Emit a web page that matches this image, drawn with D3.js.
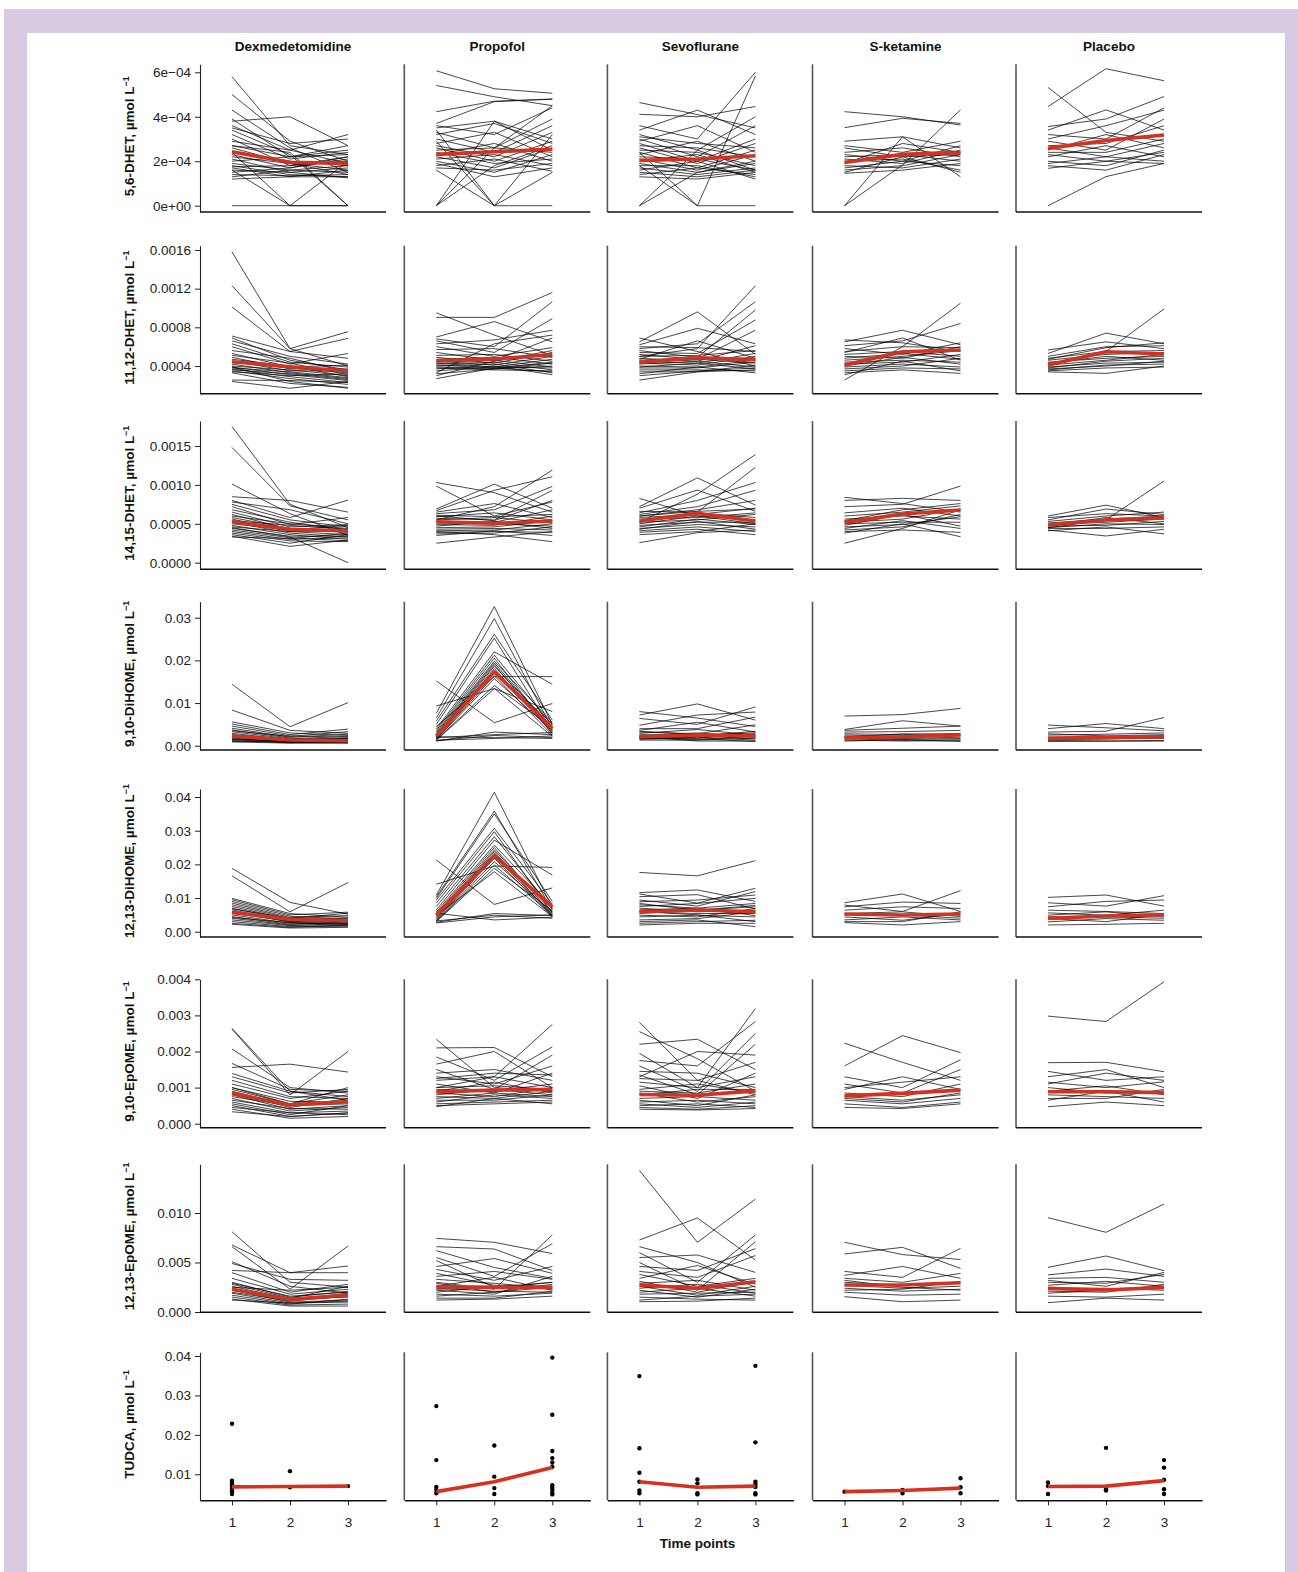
<!DOCTYPE html>
<html><head><meta charset="utf-8">
<script src="https://cdn.jsdelivr.net/npm/d3@7"></script>
<style>body{margin:0;background:#fff}svg{display:block}</style>
</head><body><svg id="c" width="1298" height="1572"></svg>
<script>
// ---------- categories / labels ----------
const groups = ["Dexmedetomidine","Propofol","Sevoflurane","S-ketamine","Placebo"];
const metabolites = ["5,6-DHET","11,12-DHET","14,15-DHET","9,10-DiHOME","12,13-DiHOME","9,10-EpOME","12,13-EpOME","TUDCA"];
const timePoints = [1,2,3];
const xTickLabels = ["1","2","3"];
const xAxisTitle = "Time points";
const unitLabel = ", µmol L";

// ---------- y ticks ----------
const dhet56Ticks = [0,2e-4,4e-4,6e-4];
const dhet56TickLabels = ["0e+00","2e−04","4e−04","6e−04"];
const dhet1112Ticks = [4e-4,8e-4,1.2e-3,1.6e-3];
const dhet1112TickLabels = ["0.0004","0.0008","0.0012","0.0016"];
const dhet1415Ticks = [0,5e-4,1e-3,1.5e-3];
const dhet1415TickLabels = ["0.0000","0.0005","0.0010","0.0015"];
const dihome910Ticks = [0,0.01,0.02,0.03];
const dihome910TickLabels = ["0.00","0.01","0.02","0.03"];
const dihome1213Ticks = [0,0.01,0.02,0.03,0.04];
const dihome1213TickLabels = ["0.00","0.01","0.02","0.03","0.04"];
const epome910Ticks = [0,0.001,0.002,0.003,0.004];
const epome910TickLabels = ["0.000","0.001","0.002","0.003","0.004"];
const epome1213Ticks = [0,0.005,0.01];
const epome1213TickLabels = ["0.000","0.005","0.010"];
const tudcaTicks = [0.01,0.02,0.03,0.04];
const tudcaTickLabels = ["0.01","0.02","0.03","0.04"];

// ---------- 5,6-DHET: subjects [t1,t2,t3] per group ----------
const dhet56Subjects = [
 [[5.8e-4,2.7e-4,2.3e-4],[5.0e-4,2.9e-4,2.0e-4],[4.3e-4,2.6e-4,1.5e-4],[3.9e-4,2.2e-4,2.7e-4],[3.8e-4,4.0e-4,2.7e-4],[3.6e-4,2.5e-4,3.2e-4],[3.5e-4,2.8e-4,3.0e-4],[3.4e-4,2.3e-4,0],[3.2e-4,2.1e-4,2.4e-4],[3.0e-4,1.8e-4,2.2e-4],[2.9e-4,2.5e-4,1.9e-4],[0,0,0],[2.4e-4,0,2.0e-4],[1.6e-4,0,0],[2.7e-4,2.4e-4,0],[2.7e-4,2.2e-4,2.5e-4],[2.6e-4,1.9e-4,1.6e-4],[2.45e-4,2.0e-4,1.8e-4],[2.3e-4,1.7e-4,2.1e-4],[2.2e-4,1.9e-4,1.4e-4],[2.1e-4,1.5e-4,1.7e-4],[2.0e-4,2.2e-4,2.3e-4],[1.9e-4,1.6e-4,1.5e-4],[1.8e-4,1.4e-4,1.3e-4],[1.75e-4,1.8e-4,2.0e-4],[1.7e-4,1.3e-4,1.6e-4],[1.6e-4,1.5e-4,1.25e-4],[1.5e-4,1.7e-4,2.2e-4],[1.4e-4,1.35e-4,1.4e-4],[1.3e-4,1.6e-4,1.8e-4],[1.2e-4,1.3e-4,1.3e-4]],
 [[6.07e-4,5.26e-4,5.06e-4],[5.41e-4,4.9e-4,4.5e-4],[4.23e-4,4.7e-4,4.8e-4],[3.7e-4,4.68e-4,4.79e-4],[3.6e-4,3.2e-4,4.4e-4],[3.5e-4,3.8e-4,2.5e-4],[3.3e-4,2.6e-4,3.9e-4],[3.2e-4,3.7e-4,2.8e-4],[3.0e-4,2.4e-4,3.6e-4],[2.8e-4,3.3e-4,2.2e-4],[2.7e-4,2.2e-4,3.3e-4],[2.6e-4,2.0e-4,2.9e-4],[2.5e-4,2.6e-4,2.4e-4],[2.4e-4,1.9e-4,2.1e-4],[2.3e-4,2.8e-4,2.0e-4],[2.2e-4,1.7e-4,2.6e-4],[2.1e-4,2.3e-4,1.8e-4],[2.0e-4,1.5e-4,2.3e-4],[1.9e-4,1.3e-4,1.7e-4],[1.8e-4,2.1e-4,1.55e-4],[1.7e-4,1.6e-4,1.9e-4],[3.4e-4,0,1.5e-4],[2.9e-4,0,0],[0,3.8e-4,3.0e-4],[0,2.6e-4,4.5e-4],[0,1.8e-4,2.7e-4],[1.6e-4,0,3.2e-4]],
 [[4.64e-4,4.1e-4,3.5e-4],[4.11e-4,4.0e-4,4.46e-4],[3.6e-4,3.0e-4,6.0e-4],[1.8e-4,0,5.84e-4],[3.4e-4,4.3e-4,3.2e-4],[3.2e-4,2.5e-4,4.0e-4],[3.1e-4,2.8e-4,2.6e-4],[3.0e-4,2.2e-4,3.6e-4],[2.9e-4,3.6e-4,2.4e-4],[2.8e-4,2.0e-4,3.0e-4],[2.7e-4,2.6e-4,2.2e-4],[2.6e-4,1.9e-4,2.8e-4],[2.5e-4,2.4e-4,1.8e-4],[2.4e-4,1.7e-4,2.5e-4],[2.3e-4,2.9e-4,2.0e-4],[2.2e-4,2.1e-4,1.6e-4],[2.1e-4,1.6e-4,2.3e-4],[2.0e-4,2.3e-4,1.5e-4],[1.9e-4,1.5e-4,2.0e-4],[1.8e-4,1.8e-4,1.3e-4],[1.7e-4,1.4e-4,1.7e-4],[1.6e-4,2.0e-4,1.2e-4],[1.5e-4,1.3e-4,1.6e-4],[1.4e-4,1.7e-4,1.4e-4],[0,2.5e-4,1.6e-4],[0,1.5e-4,1.9e-4],[2.4e-4,0,0],[1.3e-4,1.2e-4,1.5e-4]],
 [[4.23e-4,4.0e-4,3.63e-4],[3.51e-4,3.93e-4,3.7e-4],[0,3.1e-4,1.3e-4],[0,1.83e-4,4.31e-4],[2.9e-4,3.1e-4,2.6e-4],[2.7e-4,2.4e-4,2.9e-4],[2.6e-4,2.2e-4,2.3e-4],[2.4e-4,2.6e-4,2.2e-4],[2.3e-4,2.0e-4,2.7e-4],[2.2e-4,2.3e-4,2.0e-4],[2.1e-4,1.9e-4,2.5e-4],[2.0e-4,2.1e-4,1.6e-4],[1.9e-4,2.8e-4,2.4e-4],[1.8e-4,1.7e-4,2.1e-4],[1.7e-4,2.0e-4,1.8e-4],[1.6e-4,1.8e-4,2.3e-4],[1.5e-4,2.2e-4,1.5e-4],[1.46e-4,1.6e-4,1.9e-4]],
 [[5.32e-4,3.3e-4,2.9e-4],[4.46e-4,6.16e-4,5.62e-4],[0,1.31e-4,1.9e-4],[3.56e-4,3.9e-4,4.91e-4],[3.4e-4,4.31e-4,3.4e-4],[3.2e-4,3.0e-4,4.4e-4],[3.0e-4,3.6e-4,4.3e-4],[2.9e-4,2.5e-4,3.9e-4],[2.7e-4,2.8e-4,3.6e-4],[2.6e-4,2.2e-4,2.8e-4],[2.5e-4,3.2e-4,2.6e-4],[2.4e-4,2.4e-4,3.0e-4],[2.3e-4,2.0e-4,2.4e-4],[2.2e-4,2.7e-4,2.2e-4],[2.0e-4,1.8e-4,2.5e-4],[1.9e-4,2.2e-4,2.0e-4],[1.8e-4,1.6e-4,2.3e-4],[1.68e-4,2.0e-4,1.9e-4]]
];
const dhet56Mean = [[2.43e-4,1.95e-4,1.91e-4],[2.31e-4,2.43e-4,2.54e-4],[2.04e-4,2.10e-4,2.25e-4],[1.94e-4,2.31e-4,2.40e-4],[2.58e-4,2.93e-4,3.18e-4]];

// ---------- 11,12-DHET ----------
const dhet1112Subjects = [
 [[15.8e-4,5.8e-4,4.0e-4],[12.3e-4,5.8e-4,7.55e-4],[10.1e-4,5.5e-4,6.86e-4],[7.1e-4,5.5e-4,4.8e-4],[6.9e-4,4.6e-4,3.6e-4],[6.6e-4,5.0e-4,4.2e-4],[6.3e-4,4.4e-4,3.9e-4],[6.0e-4,4.2e-4,5.3e-4],[5.6e-4,4.8e-4,3.4e-4],[5.3e-4,3.9e-4,4.1e-4],[5.1e-4,4.3e-4,3.1e-4],[4.9e-4,3.7e-4,3.7e-4],[4.7e-4,4.0e-4,2.9e-4],[4.5e-4,3.5e-4,3.5e-4],[4.4e-4,3.8e-4,3.3e-4],[4.2e-4,3.3e-4,2.7e-4],[4.0e-4,3.6e-4,3.0e-4],[3.9e-4,3.1e-4,2.5e-4],[3.8e-4,3.4e-4,2.8e-4],[3.7e-4,2.9e-4,2.3e-4],[3.6e-4,3.2e-4,2.6e-4],[3.5e-4,2.7e-4,2.1e-4],[3.4e-4,3.0e-4,3.2e-4],[2.55e-4,2.5e-4,2.3e-4],[2.4e-4,1.7e-4,2.4e-4],[3.3e-4,2.2e-4,1.8e-4],[3.9e-4,2.4e-4,1.7e-4]],
 [[9.5e-4,7.2e-4,5.1e-4],[9.03e-4,9.03e-4,11.6e-4],[7.0e-4,8.6e-4,6.5e-4],[6.8e-4,6.0e-4,10.65e-4],[6.6e-4,5.4e-4,8.9e-4],[6.3e-4,6.7e-4,7.7e-4],[6.0e-4,5.0e-4,5.9e-4],[5.7e-4,5.8e-4,4.9e-4],[5.4e-4,4.6e-4,6.9e-4],[5.1e-4,5.2e-4,4.5e-4],[4.9e-4,4.3e-4,5.4e-4],[4.7e-4,4.9e-4,4.2e-4],[4.5e-4,4.1e-4,5.0e-4],[4.4e-4,4.6e-4,3.9e-4],[4.3e-4,3.9e-4,4.7e-4],[4.2e-4,4.4e-4,3.6e-4],[4.1e-4,3.8e-4,4.4e-4],[4.0e-4,4.2e-4,3.3e-4],[3.9e-4,3.7e-4,4.0e-4],[3.8e-4,3.6e-4,3.5e-4],[3.7e-4,4.0e-4,3.1e-4],[3.5e-4,3.9e-4,3.8e-4],[3.2e-4,3.7e-4,4.3e-4],[2.7e-4,3.8e-4,3.4e-4],[3.0e-4,4.5e-4,5.6e-4],[3.3e-4,6.3e-4,7.2e-4]],
 [[6.9e-4,5.5e-4,4.0e-4],[6.5e-4,9.6e-4,5.2e-4],[6.2e-4,7.9e-4,6.3e-4],[5.0e-4,5.8e-4,12.3e-4],[5.8e-4,6.3e-4,10.65e-4],[5.6e-4,4.9e-4,9.8e-4],[5.4e-4,5.3e-4,8.76e-4],[5.2e-4,4.7e-4,7.7e-4],[5.0e-4,5.1e-4,5.6e-4],[4.8e-4,4.5e-4,6.1e-4],[4.6e-4,4.9e-4,4.7e-4],[4.5e-4,4.3e-4,5.3e-4],[4.4e-4,4.7e-4,4.3e-4],[4.3e-4,4.1e-4,5.0e-4],[4.2e-4,4.5e-4,3.9e-4],[4.0e-4,3.9e-4,4.6e-4],[3.9e-4,4.3e-4,3.7e-4],[3.8e-4,3.8e-4,4.4e-4],[3.6e-4,3.6e-4,3.5e-4],[3.4e-4,3.4e-4,4.1e-4],[3.2e-4,3.9e-4,3.3e-4],[3.0e-4,3.5e-4,3.8e-4],[2.55e-4,3.4e-4,3.6e-4],[4.7e-4,6.6e-4,4.8e-4],[6.0e-4,5.9e-4,5.5e-4]],
 [[6.7e-4,6.4e-4,5.5e-4],[6.5e-4,7.7e-4,6.2e-4],[2.55e-4,6.0e-4,10.5e-4],[6.1e-4,6.6e-4,8.4e-4],[5.8e-4,5.2e-4,6.4e-4],[5.5e-4,6.0e-4,5.9e-4],[5.2e-4,5.5e-4,5.0e-4],[5.0e-4,4.8e-4,6.0e-4],[4.8e-4,5.3e-4,4.7e-4],[4.6e-4,5.0e-4,5.6e-4],[4.4e-4,4.6e-4,4.4e-4],[4.2e-4,4.4e-4,5.2e-4],[4.0e-4,4.9e-4,4.2e-4],[3.9e-4,4.2e-4,3.9e-4],[3.7e-4,4.0e-4,4.8e-4],[3.5e-4,3.8e-4,3.7e-4],[3.3e-4,3.6e-4,3.24e-4],[3.1e-4,4.5e-4,3.5e-4],[5.4e-4,6.9e-4,4.6e-4]],
 [[4.0e-4,5.5e-4,9.9e-4],[5.66e-4,6.5e-4,5.8e-4],[5.3e-4,7.4e-4,6.3e-4],[5.0e-4,6.0e-4,6.1e-4],[4.8e-4,5.5e-4,5.6e-4],[4.6e-4,5.2e-4,5.4e-4],[4.4e-4,4.8e-4,5.0e-4],[4.3e-4,5.0e-4,4.6e-4],[4.1e-4,4.6e-4,5.2e-4],[3.9e-4,4.3e-4,4.4e-4],[3.8e-4,4.5e-4,4.8e-4],[3.6e-4,4.1e-4,4.2e-4],[3.5e-4,3.8e-4,3.9e-4],[3.4e-4,3.24e-4,4.0e-4],[4.7e-4,5.9e-4,6.4e-4],[3.7e-4,4.0e-4,4.5e-4]]
];
const dhet1112Mean = [[4.45e-4,3.93e-4,3.48e-4],[4.55e-4,4.72e-4,5.2e-4],[4.38e-4,4.86e-4,4.66e-4],[4.1e-4,5.48e-4,5.66e-4],[4.1e-4,5.48e-4,5.24e-4]];

// ---------- 14,15-DHET ----------
const dhet1415Subjects = [
 [[17.5e-4,7.5e-4,4.5e-4],[14.8e-4,7.3e-4,5.5e-4],[10.1e-4,6.3e-4,3.5e-4],[8.48e-4,8.0e-4,6.5e-4],[8.0e-4,5.8e-4,8.05e-4],[7.8e-4,6.8e-4,5.0e-4],[7.5e-4,5.5e-4,4.6e-4],[7.2e-4,4.9e-4,5.8e-4],[6.8e-4,5.2e-4,4.2e-4],[6.5e-4,4.6e-4,4.9e-4],[6.2e-4,4.3e-4,3.9e-4],[6.0e-4,5.0e-4,4.4e-4],[5.8e-4,4.4e-4,4.0e-4],[5.6e-4,4.0e-4,3.6e-4],[5.4e-4,4.8e-4,4.3e-4],[5.2e-4,3.8e-4,3.3e-4],[5.0e-4,4.2e-4,4.8e-4],[4.8e-4,3.6e-4,3.0e-4],[4.6e-4,4.0e-4,4.1e-4],[4.4e-4,3.4e-4,3.4e-4],[4.2e-4,3.2e-4,2.8e-4],[4.0e-4,3.0e-4,3.2e-4],[3.8e-4,2.8e-4,2.7e-4],[3.6e-4,2.5e-4,3.6e-4],[3.4e-4,2.1e-4,2.9e-4],[4.5e-4,3.3e-4,0],[3.3e-4,3.1e-4,3.8e-4]],
 [[10.3e-4,9.0e-4,6.5e-4],[9.85e-4,6.0e-4,7.8e-4],[5.5e-4,7.2e-4,11.9e-4],[6.9e-4,10.1e-4,7.0e-4],[6.7e-4,9.3e-4,11.05e-4],[6.5e-4,7.6e-4,5.8e-4],[6.3e-4,6.8e-4,9.8e-4],[6.1e-4,5.9e-4,6.2e-4],[5.9e-4,6.4e-4,5.5e-4],[5.7e-4,5.5e-4,9.3e-4],[5.5e-4,5.8e-4,5.1e-4],[5.3e-4,5.2e-4,6.8e-4],[5.1e-4,5.0e-4,4.7e-4],[4.9e-4,4.8e-4,6.0e-4],[4.7e-4,5.3e-4,4.4e-4],[4.5e-4,4.6e-4,5.4e-4],[4.3e-4,4.4e-4,4.2e-4],[4.1e-4,4.2e-4,5.0e-4],[3.9e-4,4.0e-4,3.9e-4],[3.7e-4,3.8e-4,4.6e-4],[3.5e-4,4.1e-4,3.5e-4],[2.5e-4,3.3e-4,4.0e-4],[4.0e-4,3.6e-4,2.7e-4],[6.0e-4,5.4e-4,8.0e-4]],
 [[8.27e-4,6.0e-4,5.0e-4],[7.2e-4,10.9e-4,7.4e-4],[7.0e-4,9.34e-4,6.6e-4],[5.2e-4,8.8e-4,13.9e-4],[6.6e-4,6.5e-4,12.25e-4],[6.4e-4,8.0e-4,10.3e-4],[6.2e-4,7.2e-4,9.3e-4],[6.0e-4,6.8e-4,8.0e-4],[5.8e-4,6.2e-4,7.0e-4],[5.6e-4,5.8e-4,6.4e-4],[5.4e-4,6.4e-4,5.8e-4],[5.2e-4,5.5e-4,6.2e-4],[5.0e-4,6.0e-4,5.5e-4],[4.8e-4,5.2e-4,5.2e-4],[4.6e-4,5.6e-4,4.9e-4],[4.4e-4,4.9e-4,4.6e-4],[4.3e-4,5.3e-4,4.3e-4],[4.1e-4,4.6e-4,4.0e-4],[3.9e-4,4.3e-4,3.6e-4],[3.6e-4,4.0e-4,5.0e-4],[2.57e-4,3.86e-4,4.2e-4],[6.0e-4,6.6e-4,6.9e-4]],
 [[8.4e-4,7.6e-4,6.5e-4],[8.0e-4,8.27e-4,8.0e-4],[7.2e-4,7.5e-4,9.85e-4],[6.4e-4,7.0e-4,6.0e-4],[6.0e-4,6.5e-4,7.3e-4],[5.6e-4,6.0e-4,5.6e-4],[5.2e-4,5.6e-4,6.9e-4],[5.0e-4,5.2e-4,5.2e-4],[4.8e-4,6.2e-4,4.7e-4],[4.6e-4,4.9e-4,5.9e-4],[4.4e-4,5.4e-4,4.4e-4],[4.2e-4,4.6e-4,6.2e-4],[4.0e-4,4.2e-4,3.9e-4],[2.5e-4,4.4e-4,6.8e-4],[3.8e-4,5.0e-4,3.34e-4],[5.4e-4,6.8e-4,7.6e-4]],
 [[6.0e-4,7.4e-4,5.8e-4],[4.5e-4,5.5e-4,10.5e-4],[5.5e-4,6.9e-4,6.2e-4],[5.3e-4,6.0e-4,6.5e-4],[5.1e-4,5.6e-4,6.0e-4],[4.9e-4,5.2e-4,5.6e-4],[4.7e-4,4.8e-4,5.3e-4],[4.5e-4,5.0e-4,4.9e-4],[4.4e-4,4.4e-4,4.6e-4],[4.2e-4,3.43e-4,4.3e-4],[4.1e-4,4.6e-4,3.7e-4],[5.8e-4,6.3e-4,6.0e-4],[4.8e-4,5.8e-4,5.0e-4]]
];
const dhet1415Mean = [[5.27e-4,4.28e-4,4.11e-4],[5.27e-4,5.06e-4,5.36e-4],[5.36e-4,6.34e-4,5.36e-4],[5.18e-4,6.26e-4,6.77e-4],[4.84e-4,5.48e-4,5.78e-4]];

// ---------- 9,10-DiHOME ----------
const dihome910Subjects = [
 [[14.4e-3,4.45e-3,10.1e-3],[8.36e-3,3.6e-3,2.9e-3],[5.6e-3,3.0e-3,2.4e-3],[5.1e-3,2.6e-3,3.9e-3],[4.6e-3,2.3e-3,2.0e-3],[4.1e-3,2.0e-3,2.7e-3],[3.7e-3,1.8e-3,1.6e-3],[3.3e-3,1.6e-3,2.2e-3],[2.9e-3,1.4e-3,1.3e-3],[2.6e-3,1.2e-3,1.8e-3],[2.3e-3,1.0e-3,1.0e-3],[2.0e-3,1.3e-3,1.5e-3],[1.8e-3,0.9e-3,0.9e-3],[1.6e-3,1.1e-3,1.2e-3],[1.4e-3,0.8e-3,0.7e-3],[1.2e-3,0.7e-3,1.1e-3],[1.0e-3,0.9e-3,0.8e-3],[0.9e-3,0.6e-3,0.6e-3],[2.5e-3,1.5e-3,1.4e-3],[3.5e-3,2.2e-3,3.3e-3],[1.5e-3,1.0e-3,1.7e-3]],
 [[15.2e-3,5.4e-3,9.9e-3],[9.3e-3,13.4e-3,8.0e-3],[7.6e-3,32.6e-3,5.0e-3],[6.5e-3,29.8e-3,4.0e-3],[5.8e-3,26.1e-3,6.0e-3],[5.0e-3,25.2e-3,3.5e-3],[4.5e-3,16.2e-3,16.2e-3],[4.0e-3,22.0e-3,14.4e-3],[3.6e-3,21.2e-3,4.8e-3],[3.2e-3,20.5e-3,3.2e-3],[2.9e-3,19.8e-3,5.5e-3],[2.6e-3,19.4e-3,3.8e-3],[2.4e-3,19.0e-3,2.8e-3],[2.2e-3,18.6e-3,4.4e-3],[2.0e-3,18.1e-3,3.0e-3],[1.8e-3,17.3e-3,5.2e-3],[1.6e-3,16.4e-3,2.5e-3],[1.5e-3,15.7e-3,3.6e-3],[1.4e-3,14.1e-3,4.2e-3],[1.3e-3,13.4e-3,2.2e-3],[1.2e-3,2.4e-3,1.9e-3],[1.3e-3,1.7e-3,2.3e-3],[1.1e-3,3.2e-3,2.6e-3],[2.1e-3,1.9e-3,1.7e-3],[1.9e-3,2.6e-3,3.1e-3]],
 [[8.0e-3,6.5e-3,4.5e-3],[7.2e-3,9.8e-3,6.0e-3],[6.4e-3,5.0e-3,9.1e-3],[4.8e-3,7.2e-3,7.9e-3],[4.0e-3,4.0e-3,6.7e-3],[3.6e-3,5.5e-3,3.2e-3],[3.2e-3,2.8e-3,4.9e-3],[2.9e-3,3.8e-3,2.5e-3],[2.6e-3,2.2e-3,3.4e-3],[2.4e-3,3.0e-3,2.0e-3],[2.1e-3,1.8e-3,2.8e-3],[1.9e-3,2.4e-3,1.6e-3],[1.7e-3,1.5e-3,2.2e-3],[1.5e-3,2.0e-3,1.3e-3],[1.33e-3,1.3e-3,1.8e-3],[2.2e-3,1.1e-3,1.1e-3],[3.4e-3,2.6e-3,3.0e-3],[1.8e-3,1.6e-3,1.0e-3]],
 [[6.95e-3,7.3e-3,8.75e-3],[3.8e-3,5.86e-3,4.6e-3],[3.2e-3,3.3e-3,3.6e-3],[2.8e-3,2.6e-3,2.9e-3],[2.5e-3,2.2e-3,2.4e-3],[2.2e-3,1.7e-3,2.0e-3],[1.9e-3,1.5e-3,1.7e-3],[1.6e-3,1.3e-3,1.4e-3],[1.3e-3,1.1e-3,1.2e-3],[1.1e-3,1.4e-3,1.0e-3],[3.6e-3,4.1e-3,4.6e-3],[2.0e-3,2.8e-3,2.6e-3]],
 [[4.84e-3,4.2e-3,3.5e-3],[4.0e-3,5.2e-3,4.0e-3],[3.2e-3,3.4e-3,6.6e-3],[2.5e-3,2.7e-3,3.0e-3],[2.0e-3,2.1e-3,2.4e-3],[1.6e-3,1.7e-3,1.7e-3],[1.2e-3,1.3e-3,1.2e-3],[1.0e-3,1.0e-3,1.1e-3],[2.8e-3,2.3e-3,2.6e-3],[1.4e-3,1.6e-3,2.0e-3]]
];
const dihome910Mean = [[2.27e-3,1.33e-3,1.17e-3],[2.27e-3,17.3e-3,4.06e-3],[2.1e-3,2.5e-3,2.27e-3],[1.88e-3,2.1e-3,2.5e-3],[1.72e-3,1.95e-3,2.1e-3]];

// ---------- 12,13-DiHOME ----------
const dihome1213Subjects = [
 [[18.8e-3,8.7e-3,5.2e-3],[16.6e-3,5.9e-3,14.6e-3],[9.9e-3,5.4e-3,4.3e-3],[9.5e-3,5.0e-3,5.8e-3],[9.0e-3,4.6e-3,3.8e-3],[8.5e-3,4.2e-3,4.8e-3],[8.0e-3,3.9e-3,3.4e-3],[7.5e-3,3.6e-3,4.1e-3],[7.0e-3,3.3e-3,3.0e-3],[6.5e-3,3.0e-3,3.7e-3],[6.0e-3,2.8e-3,2.6e-3],[5.5e-3,3.1e-3,3.2e-3],[5.0e-3,2.5e-3,2.3e-3],[4.5e-3,2.2e-3,2.9e-3],[4.0e-3,2.0e-3,1.9e-3],[3.5e-3,1.8e-3,2.5e-3],[3.0e-3,1.5e-3,1.6e-3],[2.5e-3,1.3e-3,2.0e-3],[2.2e-3,1.1e-3,1.3e-3],[4.2e-3,2.7e-3,2.1e-3],[6.8e-3,4.0e-3,5.5e-3]],
 [[21.3e-3,8.1e-3,13.0e-3],[10.9e-3,41.4e-3,7.2e-3],[10.4e-3,35.8e-3,6.5e-3],[9.9e-3,35.0e-3,9.0e-3],[9.4e-3,30.7e-3,8.2e-3],[8.5e-3,29.7e-3,5.5e-3],[7.5e-3,28.2e-3,6.8e-3],[6.5e-3,27.2e-3,16.8e-3],[5.9e-3,25.7e-3,7.6e-3],[5.4e-3,25.0e-3,5.0e-3],[5.0e-3,24.3e-3,6.0e-3],[4.6e-3,23.8e-3,4.6e-3],[4.2e-3,23.3e-3,7.0e-3],[3.9e-3,22.3e-3,5.3e-3],[3.6e-3,21.8e-3,4.4e-3],[3.3e-3,20.8e-3,5.8e-3],[3.1e-3,19.8e-3,4.9e-3],[3.0e-3,18.8e-3,6.3e-3],[4.8e-3,17.8e-3,4.5e-3],[2.8e-3,5.4e-3,4.8e-3],[3.2e-3,4.9e-3,4.0e-3],[2.6e-3,4.4e-3,5.0e-3],[5.5e-3,3.5e-3,4.3e-3],[14.1e-3,19.5e-3,19.1e-3]],
 [[17.6e-3,16.6e-3,21.1e-3],[11.6e-3,12.4e-3,9.0e-3],[11.2e-3,8.5e-3,12.9e-3],[10.4e-3,11.0e-3,6.8e-3],[9.4e-3,7.6e-3,11.9e-3],[8.9e-3,9.4e-3,10.9e-3],[8.4e-3,6.4e-3,7.8e-3],[7.5e-3,8.4e-3,9.9e-3],[7.0e-3,5.9e-3,6.4e-3],[6.5e-3,7.0e-3,8.4e-3],[5.9e-3,5.4e-3,5.4e-3],[5.4e-3,6.4e-3,7.4e-3],[4.4e-3,4.9e-3,4.4e-3],[3.5e-3,3.9e-3,5.9e-3],[2.5e-3,3.0e-3,3.4e-3],[2.0e-3,2.5e-3,2.5e-3],[4.9e-3,4.4e-3,6.9e-3],[6.0e-3,5.0e-3,3.0e-3],[3.0e-3,3.5e-3,1.5e-3],[8.0e-3,7.0e-3,4.8e-3]],
 [[8.6e-3,11.2e-3,6.0e-3],[7.9e-3,6.0e-3,12.2e-3],[7.4e-3,8.8e-3,8.4e-3],[6.4e-3,7.4e-3,6.9e-3],[5.4e-3,5.9e-3,4.5e-3],[4.4e-3,3.4e-3,5.4e-3],[3.5e-3,4.4e-3,3.5e-3],[2.7e-3,2.0e-3,3.0e-3],[5.0e-3,5.0e-3,4.0e-3],[3.0e-3,3.0e-3,5.9e-3]],
 [[10.2e-3,10.9e-3,7.6e-3],[8.6e-3,7.6e-3,10.7e-3],[7.4e-3,9.0e-3,9.4e-3],[6.4e-3,6.0e-3,5.4e-3],[5.6e-3,4.9e-3,6.4e-3],[4.9e-3,5.9e-3,4.4e-3],[3.9e-3,3.0e-3,5.2e-3],[2.9e-3,3.9e-3,3.4e-3],[2.0e-3,2.2e-3,2.5e-3],[4.4e-3,4.4e-3,4.0e-3]]
];
const dihome1213Mean = [[5.74e-3,3.66e-3,3.27e-3],[4.95e-3,22.5e-3,7.4e-3],[5.94e-3,6.44e-3,5.94e-3],[5.25e-3,4.95e-3,5.25e-3],[3.96e-3,4.65e-3,5.05e-3]];

// ---------- 9,10-EpOME ----------
const epome910Subjects = [
 [[2.64e-3,0.9e-3,0.75e-3],[2.62e-3,0.8e-3,2.0e-3],[2.07e-3,1.0e-3,0.85e-3],[1.67e-3,0.95e-3,0.9e-3],[1.56e-3,1.65e-3,1.43e-3],[1.39e-3,0.9e-3,0.65e-3],[1.3e-3,0.85e-3,0.95e-3],[1.2e-3,0.75e-3,0.7e-3],[1.1e-3,0.7e-3,0.9e-3],[1.0e-3,0.62e-3,0.6e-3],[0.95e-3,0.55e-3,0.8e-3],[0.9e-3,0.5e-3,0.55e-3],[0.85e-3,0.45e-3,0.7e-3],[0.8e-3,0.4e-3,0.5e-3],[0.75e-3,0.5e-3,0.65e-3],[0.7e-3,0.35e-3,0.45e-3],[0.65e-3,0.42e-3,0.4e-3],[0.6e-3,0.3e-3,0.35e-3],[0.55e-3,0.25e-3,0.5e-3],[0.5e-3,0.2e-3,0.3e-3],[0.45e-3,0.3e-3,0.25e-3],[0.4e-3,0.15e-3,0.2e-3],[0.33e-3,0.2e-3,0.3e-3],[1.0e-3,0.55e-3,1.0e-3]],
 [[2.34e-3,1.0e-3,0.9e-3],[2.1e-3,2.11e-3,1.3e-3],[1.85e-3,1.2e-3,2.13e-3],[1.0e-3,1.3e-3,2.75e-3],[1.65e-3,2.0e-3,1.0e-3],[1.5e-3,0.95e-3,1.9e-3],[1.4e-3,1.5e-3,1.2e-3],[1.3e-3,1.1e-3,1.6e-3],[1.2e-3,1.3e-3,1.0e-3],[1.1e-3,0.85e-3,1.4e-3],[1.0e-3,1.05e-3,0.95e-3],[0.95e-3,0.9e-3,1.1e-3],[0.9e-3,1.15e-3,0.85e-3],[0.85e-3,0.75e-3,1.0e-3],[0.8e-3,0.95e-3,0.8e-3],[0.75e-3,0.7e-3,0.9e-3],[0.7e-3,0.85e-3,0.75e-3],[0.65e-3,0.65e-3,0.8e-3],[0.6e-3,0.8e-3,0.7e-3],[0.55e-3,0.6e-3,0.65e-3],[0.5e-3,0.55e-3,0.6e-3],[0.47e-3,0.7e-3,0.55e-3],[1.25e-3,1.4e-3,1.35e-3]],
 [[2.81e-3,1.2e-3,0.8e-3],[2.55e-3,1.8e-3,0.9e-3],[2.2e-3,2.34e-3,1.5e-3],[1.95e-3,1.0e-3,3.19e-3],[1.75e-3,1.6e-3,2.83e-3],[1.6e-3,0.9e-3,2.5e-3],[1.45e-3,1.4e-3,1.0e-3],[1.35e-3,0.8e-3,2.2e-3],[1.25e-3,1.2e-3,1.7e-3],[1.15e-3,1.0e-3,1.3e-3],[1.05e-3,0.7e-3,1.4e-3],[0.95e-3,1.1e-3,0.85e-3],[0.9e-3,0.85e-3,1.1e-3],[0.85e-3,0.6e-3,0.75e-3],[0.8e-3,0.95e-3,0.95e-3],[0.7e-3,0.75e-3,0.65e-3],[0.65e-3,0.5e-3,0.8e-3],[0.6e-3,0.65e-3,0.55e-3],[0.55e-3,0.45e-3,0.6e-3],[0.5e-3,0.55e-3,0.45e-3],[0.45e-3,0.4e-3,0.5e-3],[0.4e-3,0.38e-3,0.42e-3],[1.3e-3,2.0e-3,1.9e-3]],
 [[2.23e-3,1.7e-3,1.2e-3],[1.6e-3,2.44e-3,1.97e-3],[1.3e-3,1.0e-3,1.77e-3],[1.1e-3,0.85e-3,1.5e-3],[0.95e-3,1.3e-3,0.95e-3],[0.85e-3,0.75e-3,1.1e-3],[0.75e-3,0.65e-3,0.8e-3],[0.65e-3,0.55e-3,0.7e-3],[0.55e-3,0.45e-3,0.6e-3],[0.45e-3,0.42e-3,0.55e-3],[1.0e-3,1.15e-3,1.3e-3],[0.7e-3,0.6e-3,0.85e-3]],
 [[2.98e-3,2.83e-3,3.93e-3],[1.69e-3,1.7e-3,1.44e-3],[1.45e-3,1.2e-3,1.3e-3],[1.3e-3,1.5e-3,1.0e-3],[1.15e-3,1.0e-3,1.16e-3],[1.0e-3,0.85e-3,0.9e-3],[0.9e-3,1.05e-3,0.8e-3],[0.8e-3,0.75e-3,0.7e-3],[0.65e-3,0.9e-3,0.6e-3],[0.47e-3,0.6e-3,0.5e-3],[1.1e-3,1.4e-3,1.2e-3],[0.7e-3,0.7e-3,0.95e-3]]
];
const epome910Mean = [[0.84e-3,0.52e-3,0.61e-3],[0.886e-3,0.93e-3,0.95e-3],[0.81e-3,0.79e-3,0.91e-3],[0.77e-3,0.84e-3,0.93e-3],[0.886e-3,0.886e-3,0.86e-3]];

// ---------- 12,13-EpOME ----------
const epome1213Subjects = [
 [[8.1e-3,3.0e-3,2.5e-3],[6.77e-3,3.97e-3,4.65e-3],[6.6e-3,2.3e-3,6.67e-3],[5.08e-3,2.6e-3,1.9e-3],[4.9e-3,3.3e-3,3.2e-3],[3.97e-3,2.0e-3,2.8e-3],[4.2e-3,3.97e-3,3.97e-3],[3.4e-3,1.8e-3,2.3e-3],[2.9e-3,1.6e-3,2.0e-3],[2.8e-3,1.4e-3,2.6e-3],[2.6e-3,1.3e-3,1.5e-3],[2.4e-3,1.2e-3,1.9e-3],[2.2e-3,1.0e-3,1.2e-3],[2.0e-3,1.1e-3,1.6e-3],[1.9e-3,0.9e-3,1.0e-3],[1.7e-3,0.8e-3,1.3e-3],[1.5e-3,0.7e-3,0.8e-3],[1.3e-3,0.6e-3,0.6e-3],[1.2e-3,0.9e-3,1.1e-3],[3.0e-3,1.5e-3,2.1e-3],[2.5e-3,2.2e-3,2.5e-3]],
 [[7.44e-3,7.04e-3,5.9e-3],[6.6e-3,6.36e-3,4.2e-3],[6.2e-3,4.5e-3,3.4e-3],[5.5e-3,3.6e-3,6.9e-3],[5.2e-3,2.5e-3,3.0e-3],[4.6e-3,5.4e-3,3.9e-3],[4.3e-3,3.2e-3,4.6e-3],[3.9e-3,2.7e-3,2.6e-3],[3.6e-3,4.1e-3,3.3e-3],[3.3e-3,2.9e-3,2.4e-3],[3.0e-3,2.3e-3,7.78e-3],[2.9e-3,2.0e-3,2.8e-3],[2.6e-3,3.5e-3,2.2e-3],[2.4e-3,2.1e-3,2.0e-3],[2.2e-3,1.8e-3,3.6e-3],[2.0e-3,2.6e-3,2.3e-3],[1.8e-3,1.6e-3,1.9e-3],[1.6e-3,2.0e-3,2.5e-3],[1.4e-3,1.4e-3,2.1e-3],[1.21e-3,1.3e-3,1.6e-3],[2.3e-3,2.4e-3,3.0e-3]],
 [[14.3e-3,7.04e-3,11.4e-3],[7.27e-3,9.5e-3,5.25e-3],[6.6e-3,5.0e-3,2.5e-3],[6.0e-3,3.0e-3,7.78e-3],[5.5e-3,5.76e-3,4.0e-3],[5.0e-3,2.2e-3,7.1e-3],[4.6e-3,4.2e-3,6.4e-3],[4.1e-3,3.5e-3,5.7e-3],[3.8e-3,2.6e-3,3.4e-3],[3.4e-3,4.7e-3,2.8e-3],[3.1e-3,2.0e-3,3.1e-3],[2.9e-3,3.2e-3,2.2e-3],[2.6e-3,1.7e-3,2.6e-3],[2.4e-3,2.8e-3,1.9e-3],[2.2e-3,1.5e-3,2.3e-3],[2.0e-3,2.4e-3,1.6e-3],[1.8e-3,1.9e-3,2.0e-3],[1.5e-3,1.3e-3,1.2e-3],[1.2e-3,1.6e-3,1.8e-3],[1.04e-3,1.1e-3,1.4e-3]],
 [[7.04e-3,5.8e-3,5.3e-3],[5.86e-3,6.53e-3,4.4e-3],[4.1e-3,3.5e-3,6.43e-3],[3.7e-3,4.6e-3,3.4e-3],[3.4e-3,3.0e-3,3.9e-3],[3.0e-3,2.7e-3,2.9e-3],[2.7e-3,2.4e-3,2.6e-3],[2.4e-3,2.1e-3,2.3e-3],[2.0e-3,1.7e-3,1.8e-3],[1.55e-3,1.04e-3,1.2e-3],[2.2e-3,2.3e-3,3.1e-3],[3.2e-3,2.5e-3,2.2e-3]],
 [[9.53e-3,8.05e-3,10.9e-3],[4.51e-3,5.66e-3,4.18e-3],[3.75e-3,4.34e-3,3.6e-3],[3.4e-3,3.5e-3,3.0e-3],[3.0e-3,2.9e-3,3.8e-3],[2.7e-3,3.1e-3,2.6e-3],[2.4e-3,2.4e-3,2.2e-3],[2.1e-3,2.0e-3,2.8e-3],[1.6e-3,1.5e-3,1.8e-3],[0.94e-3,1.4e-3,1.2e-3],[3.2e-3,2.6e-3,4.0e-3],[1.9e-3,2.2e-3,2.4e-3]]
];
const epome1213Mean = [[2.29e-3,1.28e-3,1.72e-3],[2.56e-3,2.49e-3,2.49e-3],[2.73e-3,2.39e-3,3.06e-3],[2.73e-3,2.73e-3,2.96e-3],[2.39e-3,2.22e-3,2.49e-3]];

// ---------- TUDCA: detected values per time point ----------
const tudcaPoints = [
 [[0.0228,0.0084,0.0079,0.0074,0.0070,0.0063,0.0057,0.0050],[0.0108,0.0067],[0.0070]],
 [[0.0273,0.0136,0.0068,0.0060,0.0052],[0.0173,0.0094,0.0065,0.0050],[0.0396,0.0251,0.0159,0.0141,0.0130,0.0119,0.0072,0.0066,0.0060,0.0053,0.0049]],
 [[0.0349,0.0166,0.0104,0.0081,0.0059,0.0052],[0.0087,0.0077,0.0052,0.0049],[0.0375,0.0181,0.0081,0.0075,0.0068,0.0052,0.0049]],
 [[0.0056],[0.0060,0.0052],[0.0090,0.0067,0.0052]],
 [[0.0079,0.0070,0.0050],[0.0167,0.0062,0.0059],[0.0136,0.0117,0.0086,0.0062,0.0050]]
];
const tudcaMean = [[0.0068,0.0069,0.0070],[0.0056,0.0081,0.0117],[0.0081,0.0067,0.0070],[0.0056,0.0059,0.0065],[0.0069,0.0070,0.0084]];

// ---------- layout (pixels) & axis ranges ----------
const colLeft = [200, 404.3, 607.4, 812.5, 1016];
const panelW = 186;
const rowTop = [64.3, 245.7, 421, 601.7, 789, 979.3, 1164.3, 1352.3];
const rowBottom = [212, 393.7, 569.3, 750, 937, 1127.7, 1312.3, 1500.3];
const yDomains = [[-2.83e-5,6.36e-4],[1.14e-4,1.644e-3],[-8.5e-5,1.821e-3],[-1.0e-3,3.375e-2],[-1.57e-3,4.238e-2],[-1.11e-4,4.0e-3],[-3e-5,1.492e-2],[3.4e-3,4.094e-2]];
const xDomain = [0.448, 3.655];

const rows = [
 {subj:dhet56Subjects, mean:dhet56Mean, ticks:dhet56Ticks, labels:dhet56TickLabels},
 {subj:dhet1112Subjects, mean:dhet1112Mean, ticks:dhet1112Ticks, labels:dhet1112TickLabels},
 {subj:dhet1415Subjects, mean:dhet1415Mean, ticks:dhet1415Ticks, labels:dhet1415TickLabels},
 {subj:dihome910Subjects, mean:dihome910Mean, ticks:dihome910Ticks, labels:dihome910TickLabels},
 {subj:dihome1213Subjects, mean:dihome1213Mean, ticks:dihome1213Ticks, labels:dihome1213TickLabels},
 {subj:epome910Subjects, mean:epome910Mean, ticks:epome910Ticks, labels:epome910TickLabels},
 {subj:epome1213Subjects, mean:epome1213Mean, ticks:epome1213Ticks, labels:epome1213TickLabels},
 {points:tudcaPoints, mean:tudcaMean, ticks:tudcaTicks, labels:tudcaTickLabels}
];

const FONT = "'Liberation Sans', Arial, Helvetica, sans-serif";
const RED = "#d6311f";
const svg = d3.select("#c");

// frame
svg.append("rect").attr("x",4).attr("y",9).attr("width",1294).attr("height",1563).attr("fill","#d8cae3");
svg.append("rect").attr("x",27).attr("y",33).attr("width",1258).attr("height",1539).attr("fill","#ffffff");

const x = d3.scaleLinear().domain(xDomain).range([0, panelW]);

// column titles
groups.forEach((g,c)=>{
  svg.append("text").attr("x", colLeft[c] + panelW/2).attr("y", 51)
    .attr("text-anchor","middle").attr("font-family",FONT).attr("font-weight","bold")
    .attr("font-size",13.5).attr("fill","#111").text(g);
});

rows.forEach((row, r)=>{
  const h = rowBottom[r] - rowTop[r];
  const y = d3.scaleLinear().domain(yDomains[r]).range([h, 0]);
  const line = d3.line().x((d,i)=>x(timePoints[i])).y(d=>y(d));

  // y title
  const t = svg.append("text")
    .attr("transform", `translate(134,${rowTop[r] + h/2 - 2}) rotate(-90)`)
    .attr("text-anchor","middle").attr("font-family",FONT).attr("font-weight","bold")
    .attr("font-size",13.5).attr("fill","#111");
  t.append("tspan").text(metabolites[r] + unitLabel);
  t.append("tspan").attr("font-size",9).attr("dy",-5).text("−1");

  for (let c = 0; c < groups.length; c++) {
    const g = svg.append("g").attr("transform", `translate(${colLeft[c]},${rowTop[r]})`);

    if (row.subj) {
      g.append("g").selectAll("path").data(row.subj[c]).join("path")
        .attr("d", line).attr("fill","none").attr("stroke","#000")
        .attr("stroke-opacity",0.8).attr("stroke-width",0.9).attr("stroke-linejoin","round");
    } else {
      const pts = [];
      row.points[c].forEach((arr,i)=>arr.forEach(v=>pts.push({t:timePoints[i], v})));
      g.append("g").selectAll("circle").data(pts).join("circle")
        .attr("cx", d=>x(d.t)).attr("cy", d=>y(d.v)).attr("r", 2.2).attr("fill","#000");
    }
    g.append("path").attr("d", line(row.mean[c])).attr("fill","none")
      .attr("stroke",RED).attr("stroke-width",3.6).attr("stroke-linejoin","round").attr("stroke-linecap","butt");

    // left axis
    if (c === 0) {
      const ax = g.append("g").call(d3.axisLeft(y).tickValues(row.ticks)
        .tickFormat((d,i)=>row.labels[i]).tickSize(5).tickSizeOuter(0).tickPadding(4));
      ax.selectAll("text").attr("font-family",FONT).attr("font-size",13.5).attr("fill","#222");
      ax.selectAll("line").attr("stroke","#222");
      ax.select(".domain").attr("stroke","#222").attr("stroke-width",1.1);
    } else {
      g.append("line").attr("x1",0).attr("x2",0).attr("y1",0).attr("y2",h)
        .attr("stroke","#555").attr("stroke-width",1.6);
    }

    // bottom axis
    if (r === rows.length - 1) {
      const bx = g.append("g").attr("transform",`translate(0,${h})`)
        .call(d3.axisBottom(x).tickValues(timePoints).tickFormat((d,i)=>xTickLabels[i])
          .tickSize(5).tickSizeOuter(0).tickPadding(12));
      bx.selectAll("text").attr("font-family",FONT).attr("font-size",13.5).attr("fill","#222");
      bx.selectAll("line").attr("stroke","#222");
      bx.select(".domain").attr("stroke","#111").attr("stroke-width",1.5);
    } else {
      g.append("line").attr("x1",0).attr("x2",panelW).attr("y1",h).attr("y2",h)
        .attr("stroke","#111").attr("stroke-width",1.5);
    }
  }
});

// x axis title
svg.append("text").attr("x", colLeft[2] + x(2)).attr("y", 1548)
  .attr("text-anchor","middle").attr("font-family",FONT).attr("font-weight","bold")
  .attr("font-size",13.5).attr("fill","#111").text(xAxisTitle);
</script>
</body></html>
